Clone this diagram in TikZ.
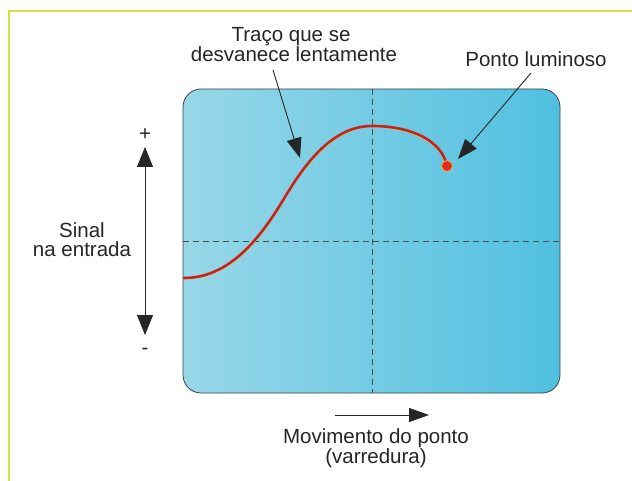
\documentclass[tikz,border=0pt]{standalone}
\usepackage{fontspec}
\setmainfont{Liberation Sans}
\usetikzlibrary{arrows.meta}
\definecolor{framecol}{RGB}{214,226,70}
\definecolor{scrL}{RGB}{152,215,232}
\definecolor{scrR}{RGB}{80,192,224}
\definecolor{trace}{RGB}{196,36,28}
\definecolor{glow}{RGB}{240,200,60}
\definecolor{spot}{RGB}{226,44,30}
\begin{document}
\begin{tikzpicture}[x=1pt,y=-1pt,
  lbl/.style={font=\fontsize{20.5}{20.5}\selectfont, inner sep=0pt, anchor=base, text=black!85},
  ptr/.style={draw=black!85, line width=0.9pt, -{Triangle[length=20pt,width=15pt]}},
  dblptr/.style={draw=black!85, line width=0.9pt, {Triangle[length=20pt,width=16pt]}-{Triangle[length=20pt,width=16pt]}},
  gridln/.style={draw=black!70, line width=0.7pt, dash pattern=on 6pt off 4pt},
  screen/.style={rounded corners=18pt},
  tracepath/.style={line cap=round}
]
\useasboundingbox (0,0) rectangle (632,481);
\fill[white] (0,0) rectangle (632,481);
\draw[framecol, line width=2pt] (632,11) -- (9,11) -- (9,481);

% screen
\shade[screen, left color=scrL, right color=scrR] (183,89) rectangle (560,393);
\coordinate (vt) at (372,89);
\coordinate (vb) at (372,393);
\coordinate (hl) at (183,241);
\coordinate (hr) at (560,241);
\draw[gridln] (vt) -- (vb);
\draw[gridln] (hl) -- (hr);
\draw[screen, draw=black!75, line width=0.8pt] (183,89) rectangle (560,393);

% trace
\coordinate (c0) at (184,278);
\coordinate (c1) at (285,197);
\coordinate (c2) at (372,126);
\coordinate (c3) at (447,166);
\draw[tracepath, glow, line width=2.4pt, yshift=-1pt]
  (c0) .. controls (229,278) and (260,239) .. (c1)
       .. controls (310,155) and (337,126) .. (c2)
       .. controls (412,126) and (442,141) .. (c3);
\draw[tracepath, trace, line width=2.6pt]
  (c0) .. controls (229,278) and (260,239) .. (c1)
       .. controls (310,155) and (337,126) .. (c2)
       .. controls (412,126) and (442,141) .. (c3);
\node[circle, fill=spot, draw=glow, line width=0.6pt, minimum size=11pt, inner sep=0pt] (dot) at (c3) {};

% labels
\node[lbl] (t1) at (291,42) {Traço que se};
\node[lbl] (t2) at (294,62) {desvanece lentamente};
\node[lbl] (p1) at (536,67) {Ponto luminoso};
\node[lbl] (s1) at (82,237) {Sinal};
\node[lbl] (s2) at (82,257) {na entrada};
\node[lbl] (m1) at (376,443) {Movimento do ponto};
\node[lbl] (m2) at (376,463) {(varredura)};
\node[lbl] (plus) at (145,141) {+};
\node[lbl] (minus) at (145,354) {-};

% pointers
\coordinate (a1s) at (273,70);
\coordinate (a1e) at (300,158);
\draw[ptr] (a1s) -- (a1e);
\coordinate (a2s) at (531,73);
\coordinate (a2e) at (458,159);
\draw[ptr] (a2s) -- (a2e);
\coordinate (vu) at (145,147);
\coordinate (vd) at (145,335);
\draw[dblptr] (vu) -- (vd);
\coordinate (hs) at (335,415);
\coordinate (he) at (429,415);
\draw[ptr, -{Triangle[length=20pt,width=14pt]}] (hs) -- (he);
\end{tikzpicture}
\end{document}
